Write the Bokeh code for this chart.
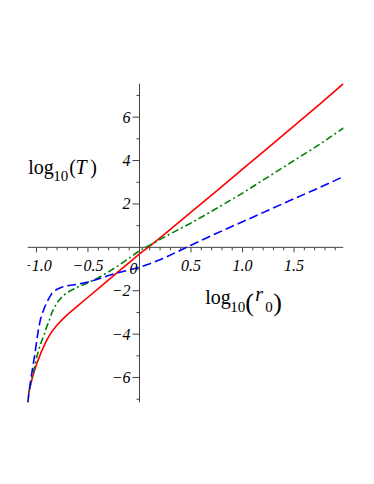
from bokeh.plotting import figure
from bokeh.models import Range1d, ColumnDataSource, LabelSet, Label
from bokeh.core.properties import value
from bokeh.embed import file_html
from bokeh.resources import INLINE

# ---------------- data ----------------
log_r0 = [-1.085, -1.075, -1.06, -1.045, -1.03, -1.015, -1.0, -0.98, -0.96, -0.94,
          -0.92, -0.9, -0.88, -0.85, -0.8, -0.75, -0.7, -0.6, -0.5, -0.4,
          -0.3, -0.2, -0.1, 0.0, 0.1, 0.25, 0.5, 0.75, 1.0, 1.25, 1.5, 1.75, 1.98]

log_T_red = [-7.15, -6.7, -6.4, -6.1, -5.85, -5.62, -5.4, -5.15, -4.9, -4.68,
             -4.47, -4.28, -4.1, -3.88, -3.58, -3.33, -3.1, -2.7, -2.3, -1.9,
             -1.5, -1.1, -0.7, -0.3, 0.06, 0.63, 1.62, 2.6, 3.6, 4.6, 5.6, 6.6, 7.55]

log_T_green = [-7.15, -6.77, -6.35, -6.05, -5.75, -5.45, -5.1, -4.75, -4.45, -4.2,
               -3.95, -3.65, -3.42, -3.0, -2.55, -2.27, -2.07, -1.83, -1.63, -1.4,
               -1.13, -0.83, -0.5, -0.15, 0.1, 0.5, 1.12, 1.8, 2.5, 3.25, 4.0, 4.75, 5.5]

log_T_blue = [-7.15, -6.77, -6.25, -5.8, -5.35, -4.9, -4.4, -3.75, -3.3, -3.0,
              -2.75, -2.55, -2.35, -2.12, -1.93, -1.83, -1.77, -1.7, -1.6, -1.46,
              -1.3, -1.16, -1.04, -0.92, -0.76, -0.47, 0.1, 0.65, 1.18, 1.71, 2.24, 2.76, 3.26]

x_major_ticks = [-1.0, -0.5, 0.5, 1.0, 1.5]
x_major_labels = ["\u22121.0", "\u22120.5", "0.5", "1.0", "1.5"]
x_minor_ticks = [-0.9, -0.8, -0.7, -0.6, -0.4, -0.3, -0.2, -0.1, 0.1, 0.2, 0.3, 0.4,
                 0.6, 0.7, 0.8, 0.9, 1.1, 1.2, 1.3, 1.4, 1.6, 1.7, 1.8, 1.9]
y_major_ticks = [-6, -4, -2, 2, 4, 6]
y_major_labels = ["\u22126", "\u22124", "\u22122", "2", "4", "6"]
y_minor_ticks = [-7, -5, -3, -1, 1, 3, 5, 7]

# ---------------- layout ----------------
X0, X1 = -1.087, 1.98
Y0, Y1 = -7.15, 7.55
W, H = 358, 468
FW, FH = 316, 319
L, T = 27, 83
sx = FW / (X1 - X0)
sy = FH / (Y1 - Y0)

p = figure(width=W, height=H, x_range=Range1d(X0, X1), y_range=Range1d(Y0, Y1),
           output_backend="svg", toolbar_location=None,
           x_axis_type=None, y_axis_type=None,
           min_border_left=L, min_border_right=W - L - FW,
           min_border_top=T, min_border_bottom=H - T - FH)
p.outline_line_color = None
p.background_fill_color = "white"
p.border_fill_color = "white"

AX = "#404040"
# axes lines through the origin
p.segment(x0=[X0], y0=[0], x1=[X1], y1=[0], line_color=AX, line_width=1)
p.segment(x0=[0], y0=[Y0], x1=[0], y1=[Y1], line_color=AX, line_width=1)
# ticks
p.segment(x0=x_major_ticks, y0=0, x1=x_major_ticks, y1=-5 / sy, line_color=AX, line_width=1)
p.segment(x0=x_minor_ticks, y0=0, x1=x_minor_ticks, y1=-3 / sy, line_color=AX, line_width=1)
p.segment(x0=0, y0=y_major_ticks, x1=-7 / sx, y1=y_major_ticks, line_color=AX, line_width=1)
p.segment(x0=0, y0=y_minor_ticks, x1=-3 / sx, y1=y_minor_ticks, line_color=AX, line_width=1)

# curves
p.line(log_r0, log_T_red, line_color="#ff0000", line_width=1.6)
p.line(log_r0, log_T_green, line_color="#008000", line_width=1.6, line_dash="7 3 2 3")
p.line(log_r0, log_T_blue, line_color="#0000ff", line_width=1.6, line_dash="9 4")

SERIF = "Liberation Serif"

xsrc = ColumnDataSource(dict(x=x_major_ticks, y=[0] * len(x_major_ticks), t=x_major_labels))
p.add_layout(LabelSet(x="x", y="y", text="t", source=xsrc, y_offset=-23.5,
                      text_align="center", text_baseline="alphabetic",
                      text_font=value(SERIF), text_font_style="italic",
                      text_font_size="16px", text_color="black"))
ysrc = ColumnDataSource(dict(x=[0] * len(y_major_ticks), y=y_major_ticks, t=y_major_labels))
p.add_layout(LabelSet(x="x", y="y", text="t", source=ysrc, x_offset=-9,
                      text_align="right", text_baseline="middle",
                      text_font=value(SERIF), text_font_style="italic",
                      text_font_size="16px", text_color="black"))
p.add_layout(Label(x=0, y=0, x_offset=-2, y_offset=-21.5, text="0",
                   text_align="right", text_baseline="alphabetic",
                   text_font=SERIF, text_font_style="italic",
                   text_font_size="16px", text_color="black"))


def piece(txt, dx, dy, size, style="normal"):
    p.add_layout(Label(x=0, y=0, x_offset=dx, y_offset=dy, text=txt,
                       text_align="left", text_baseline="alphabetic",
                       text_font=SERIF, text_font_style=style,
                       text_font_size=size, text_color="black"))


# y label: log10(T)
piece("log", -111.3, 80, "20px")
piece("10", -86.3, 71.7, "15px")
piece("(", -70.3, 80, "20px")
piece("T", -64.0, 80, "20px", "italic")
piece(")", -49.3, 80, "20px")

# x label: log10(r0)
piece("log", 65.7, -50, "20px")
piece("10", 90.7, -60, "15px")
piece("(", 105.7, -55.3, "26px")
piece("r", 115.7, -46.6, "20px", "italic")
piece("0", 125.7, -60, "15px")
piece(")", 133.7, -55.3, "26px")

open("out.html", "w").write(file_html(p, INLINE))
